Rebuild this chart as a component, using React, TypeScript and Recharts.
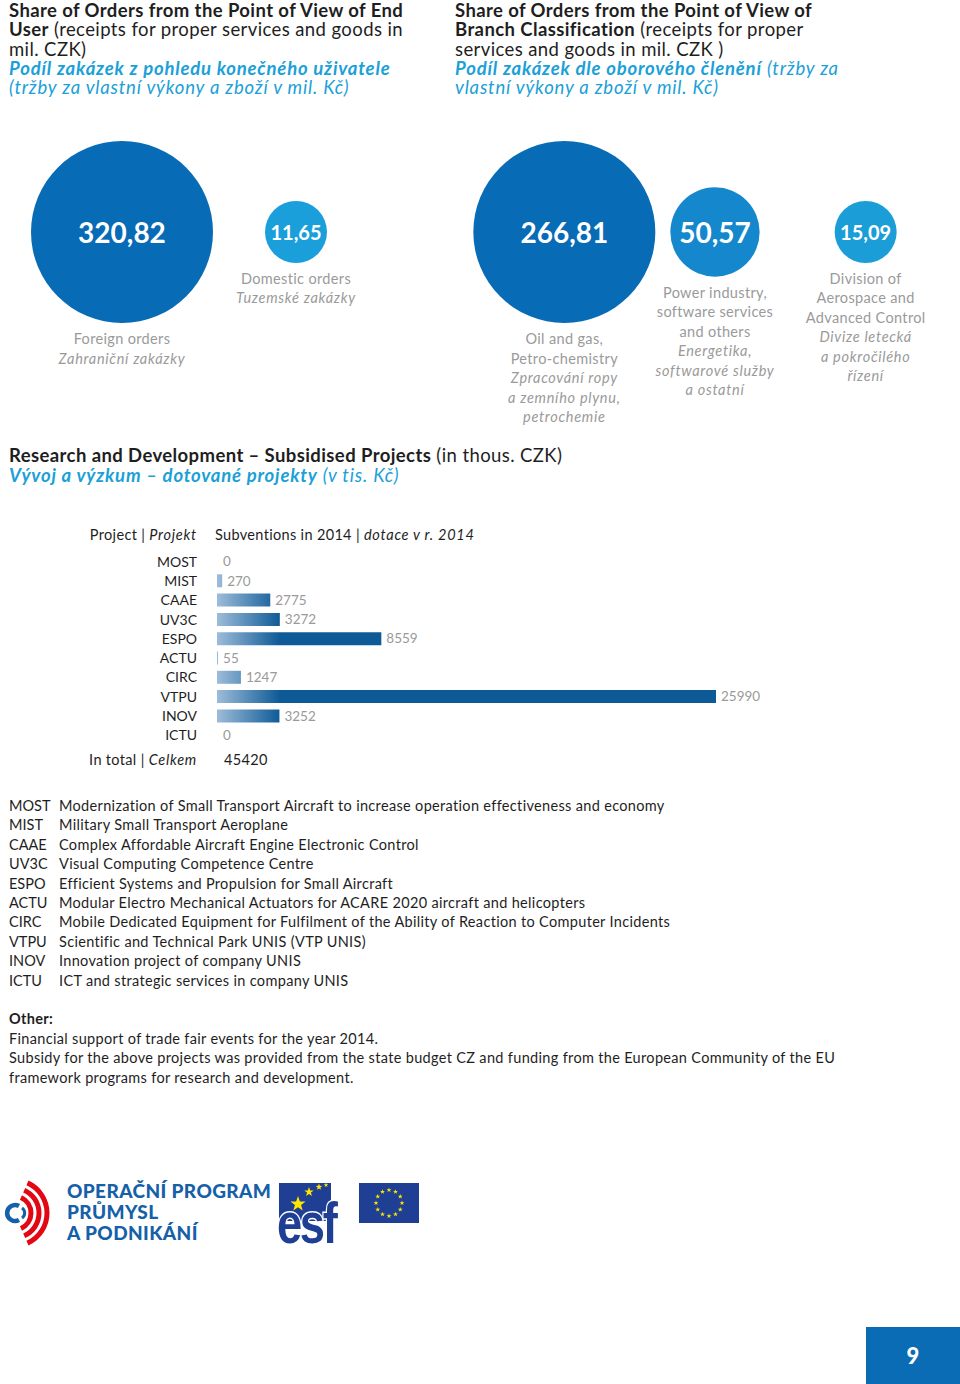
import React from 'react'
import {
  ScatterChart, Scatter, XAxis, YAxis, ZAxis,
  BarChart, Bar, LabelList, Rectangle
} from 'recharts'

// --- data: orders by end user (mil. CZK)
const userNames = ['foreign', 'domestic']
const userValues = [320.82, 11.65]
const userLabelsEn = [['Foreign orders'], ['Domestic orders']]
const userLabelsCz = [['Zahraniční zakázky'], ['Tuzemské zakázky']]

// --- data: orders by branch (mil. CZK)
const branchNames = ['oil', 'power', 'aero']
const branchValues = [266.81, 50.57, 15.09]
const branchLabelsEn = [
  ['Oil and gas,', 'Petro-chemistry'],
  ['Power industry,', 'software services', 'and others'],
  ['Division of', 'Aerospace and', 'Advanced Control'],
]
const branchLabelsCz = [
  ['Zpracování ropy', 'a zemního plynu,', 'petrochemie'],
  ['Energetika,', 'softwarové služby', 'a ostatní'],
  ['Divize letecká', 'a pokročilého', 'řízení'],
]

// --- data: R&D subsidised projects (thous. CZK)
const projects = ['MOST', 'MIST', 'CAAE', 'UV3C', 'ESPO', 'ACTU', 'CIRC', 'VTPU', 'INOV', 'ICTU']
const subventions = [0, 270, 2775, 3272, 8559, 55, 1247, 25990, 3252, 0]
const subventionsTotal = 45420
const projectTitles = [
  'Modernization of Small Transport Aircraft to increase operation effectiveness and economy',
  'Military Small Transport Aeroplane',
  'Complex Affordable Aircraft Engine Electronic Control',
  'Visual Computing Competence Centre',
  'Efficient Systems and Propulsion for Small Aircraft',
  'Modular Electro Mechanical Actuators for ACARE 2020 aircraft and helicopters',
  'Mobile Dedicated Equipment for Fulfilment of the Ability of Reaction to Computer Incidents',
  'Scientific and Technical Park UNIS (VTP UNIS)',
  'Innovation project of company UNIS',
  'ICT and strategic services in company UNIS',
]

const FONT = 'Lato, "Open Sans", sans-serif'
const DARK = '#1e1e1e'
const CYAN = '#1ba0d8'
const GREY = '#9a9a9a'
const USER_COLORS = ['#086bb5', '#1b9fda']
const BRANCH_COLORS = ['#086bb5', '#1587cd', '#1b9dd8']

// Lato runs narrower than the original face, so spread letters a bit
const LS = 0.33
const LS_IT = 0.75
const italic: React.CSSProperties = { fontStyle: 'italic', letterSpacing: LS_IT }
const czHead: React.CSSProperties = { color: CYAN, fontStyle: 'italic', letterSpacing: 0.8 }

const userData = userNames.map((name, i) => ({
  name, group: 'orders', value: userValues[i], en: userLabelsEn[i], cz: userLabelsCz[i], idx: i,
}))
const branchData = branchNames.map((name, i) => ({
  name, group: 'orders', value: branchValues[i], en: branchLabelsEn[i], cz: branchLabelsCz[i], idx: i,
}))
const barData = projects.map((name, i) => ({ name, value: subventions[i] }))

const fmt = (v: number) => v.toFixed(2).replace('.', ',')

function makeBubble(colors: string[]) {
  return function Bubble(props: any) {
    const { cx, cy, payload } = props
    const r = props.width ? props.width / 2 : Math.sqrt((props.size || 0) / Math.PI)
    const big = r > 40
    const lines = [
      ...payload.en.map((t: string) => ({ t, it: false })),
      ...payload.cz.map((t: string) => ({ t, it: true })),
    ]
    return (
      <g>
        <circle cx={cx} cy={cy} r={r} fill={colors[payload.idx]} />
        <text x={cx} y={cy} textAnchor="middle" dominantBaseline="central"
          fill="#fff" fontWeight={700} fontSize={big ? 28 : 20} fontFamily={FONT}>
          {fmt(payload.value)}
        </text>
        {lines.map((l, i) => (
          <text key={i} x={cx} y={cy + r + 21 + i * 19.5} textAnchor="middle"
            fill={GREY} fontSize={14.5} fontFamily={FONT}
            letterSpacing={l.it ? 0.7 : 0.35}
            fontStyle={l.it ? 'italic' : 'normal'}>
            {l.t}
          </text>
        ))}
      </g>
    )
  }
}

function BubbleChart({ data, colors, left, width }: any) {
  return (
    <div style={{ position: 'absolute', left: 0, top: 100 }}>
      <ScatterChart width={left + width + 30} height={340}
        margin={{ top: 0, right: 30, bottom: 76, left: left }}>
        <XAxis type="category" dataKey="name" hide />
        <YAxis type="category" dataKey="group" hide allowDuplicatedCategory={false} />
        <ZAxis type="number" dataKey="value" domain={['dataMin', 'dataMax']} range={[3019, 26016]} />
        <Scatter data={data} shape={makeBubble(colors)} isAnimationActive={false} />
      </ScatterChart>
    </div>
  )
}

function BarShape(props: any) {
  if (!props.payload || props.payload.value === 0) return <g />
  return <Rectangle {...props} />
}

function Star({ cx, cy, r }: { cx: number; cy: number; r: number }) {
  const pts: string[] = []
  for (let i = 0; i < 10; i++) {
    const a = -Math.PI / 2 + (i * Math.PI) / 5
    const rr = i % 2 === 0 ? r : r * 0.4
    pts.push(`${cx + rr * Math.cos(a)},${cy + rr * Math.sin(a)}`)
  }
  return <polygon points={pts.join(' ')} fill="#ffe600" />
}

function Logos() {
  const euStars = Array.from({ length: 12 }, (_, i) => {
    const a = (i * Math.PI) / 6
    return <Star key={i} cx={389 + 13 * Math.cos(a)} cy={1203 + 13 * Math.sin(a)} r={2.6} />
  })
  return (
    <svg width={960} height={1384} style={{ position: 'absolute', left: 0, top: 0, pointerEvents: 'none' }}>
      {/* OP PIK mark */}
      <path d="M 19 1206 A 8 8 0 1 0 19 1220" fill="none" stroke="#1560a8" strokeWidth={4.5} />
      <path d="M 22 1208 A 6 6 0 0 1 22 1218" fill="none" stroke="#1560a8" strokeWidth={3} />
      {[17, 25, 33].map((rad, i) => (
        <path key={i}
          d={`M ${14 + rad * Math.cos(-1.15)} ${1213 + rad * Math.sin(-1.15)} A ${rad} ${rad} 0 0 1 ${14 + rad * Math.cos(1.15)} ${1213 + rad * Math.sin(1.15)}`}
          fill="none" stroke="#e30613" strokeWidth={5} />
      ))}
      <g fontFamily={FONT} fontWeight={900} fontSize={19} letterSpacing={0.4} fill="#1560a8">
        <text x={67} y={1198}>OPERAČNÍ PROGRAM</text>
        <text x={67} y={1219}>PRŮMYSL</text>
        <text x={67} y={1240}>A PODNIKÁNÍ</text>
      </g>
      {/* ESF */}
      <rect x={279} y={1183} width={52} height={38} fill="#1f3f95" />
      <Star cx={298} cy={1204} r={8} />
      <Star cx={309} cy={1192} r={5} />
      <Star cx={319} cy={1187} r={3.5} />
      <Star cx={326} cy={1185} r={2.5} />
      <text x={0} y={0} transform="translate(277 1243) scale(0.78 1)"
        fontFamily="'Liberation Sans', sans-serif" fontWeight={700}
        fontSize={58} letterSpacing={-3} fill="#1f3f95" stroke="#fff" strokeWidth={3}
        paintOrder="stroke">esf</text>
      {/* EU flag */}
      <rect x={359} y={1183} width={60} height={40} fill="#1f3f95" />
      {euStars}
    </svg>
  )
}

const txt = (extra: React.CSSProperties): React.CSSProperties => ({
  position: 'absolute', fontFamily: FONT, color: DARK, whiteSpace: 'nowrap', letterSpacing: LS, ...extra,
})

export default function App() {
  return (
    <div style={{ position: 'absolute', left: 0, top: 0, width: 960, height: 1384, background: '#fff', overflow: 'hidden', fontFamily: FONT }}>
      {/* headers */}
      <div style={txt({ left: 9, top: 1, fontSize: 18.5, lineHeight: '19.3px', letterSpacing: 0.4 })}>
        <b>Share of Orders from the Point of View of End</b><br />
        <b>User</b> (receipts for proper services and goods in<br />
        mil. CZK)<br />
        <span style={czHead}><b>Podíl zakázek z pohledu konečného uživatele</b><br />
          (tržby za vlastní výkony a zboží v mil. Kč)</span>
      </div>
      <div style={txt({ left: 455, top: 1, fontSize: 18.5, lineHeight: '19.3px', letterSpacing: 0.4 })}>
        <b>Share of Orders from the Point of View of</b><br />
        <b>Branch Classification</b> (receipts for proper<br />
        services and goods in mil. CZK )<br />
        <span style={czHead}><b>Podíl zakázek dle oborového členění</b> (tržby za<br />
          vlastní výkony a zboží v mil. Kč)</span>
      </div>

      <BubbleChart data={userData} colors={USER_COLORS} left={35} width={348} />
      <BubbleChart data={branchData} colors={BRANCH_COLORS} left={489} width={452} />

      {/* R&D section */}
      <div style={txt({ left: 9, top: 446, fontSize: 18.5, lineHeight: '19.5px', letterSpacing: 0.4 })}>
        <b>Research and Development – Subsidised Projects</b> (in thous. CZK)<br />
        <span style={czHead}><b>Vývoj a výzkum – dotované projekty</b> (v tis. Kč)</span>
      </div>
      <div style={txt({ right: 960 - 197, top: 526, fontSize: 14.5 })}>
        Project | <span style={italic}>Projekt</span>
      </div>
      <div style={txt({ left: 215, top: 526, fontSize: 14.5 })}>
        Subventions in 2014 | <span style={italic}>dotace v r. 2014</span>
      </div>

      <div style={{ position: 'absolute', left: 0, top: 540 }}>
        <BarChart width={800} height={220} data={barData} layout="vertical"
          margin={{ top: 12, right: 84, bottom: 15, left: 0 }}>
          <defs>
            <linearGradient id="barGrad" gradientUnits="userSpaceOnUse" x1={217} y1={0} x2={280} y2={0}>
              <stop offset="0" stopColor="#9dbcd9" />
              <stop offset="1" stopColor="#0e5a97" />
            </linearGradient>
          </defs>
          <XAxis type="number" hide domain={[0, 'dataMax']} />
          <YAxis type="category" dataKey="name" width={217} axisLine={false} tickLine={false}
            tickSize={0} tickMargin={20} interval={0}
            tick={{ fill: DARK, fontSize: 14, fontFamily: FONT }} />
          <Bar dataKey="value" fill="url(#barGrad)" barSize={13} minPointSize={1}
            shape={BarShape} isAnimationActive={false}>
            <LabelList dataKey="value" position="right" offset={5} fill={GREY}
              fontSize={13.5} fontFamily={FONT} />
          </Bar>
        </BarChart>
      </div>

      <div style={txt({ right: 960 - 197, top: 751, fontSize: 14.5 })}>
        In total | <span style={italic}>Celkem</span>
      </div>
      <div style={txt({ left: 224, top: 751, fontSize: 14.5 })}>{subventionsTotal}</div>

      {/* project legend */}
      {projects.map((p, i) => (
        <React.Fragment key={p}>
          <div style={txt({ left: 9, top: 797 + i * 19.4, fontSize: 14.5, letterSpacing: 0 })}>{p}</div>
          <div style={txt({ left: 59, top: 797 + i * 19.4, fontSize: 14.5 })}>{projectTitles[i]}</div>
        </React.Fragment>
      ))}

      <div style={txt({ left: 9, top: 1009, fontSize: 14.5, lineHeight: '19.5px' })}>
        <b>Other:</b><br />
        Financial support of trade fair events for the year 2014.<br />
        Subsidy for the above projects was provided from the state budget CZ and funding from the European Community of the EU<br />
        framework programs for research and development.
      </div>

      <Logos />

      <div style={{
        position: 'absolute', left: 866, top: 1327, width: 94, height: 57, background: '#0a6cb5',
        color: '#fff', fontFamily: FONT, fontWeight: 900, fontSize: 22,
        display: 'flex', alignItems: 'center', justifyContent: 'center',
      }}>9</div>
    </div>
  )
}
